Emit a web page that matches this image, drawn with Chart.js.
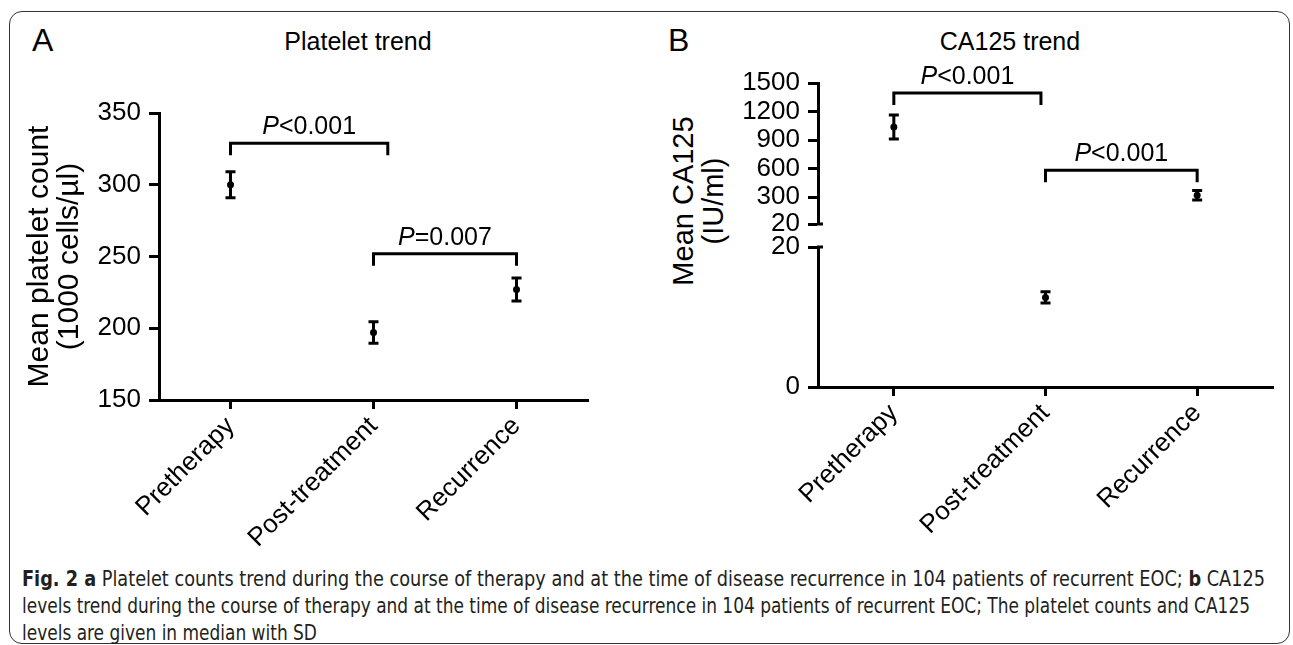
<!DOCTYPE html>
<html>
<head>
<meta charset="utf-8">
<script src="https://cdn.jsdelivr.net/npm/chart.js@4.4.0/dist/chart.umd.min.js"></script>
<style>
  body { margin: 0; background: #fff; width: 1293px; height: 645px; overflow: hidden; position: relative;
         font-family: 'Liberation Sans', Arial, sans-serif; color: #000; }
  .frame { position: absolute; left: 9px; top: 11px; width: 1279px; height: 631px;
           border: 1.5px solid #333; border-radius: 13px; }
  .txt { position: absolute; white-space: nowrap; line-height: 1; }
  .panel { font-size: 32px; }
  .title { font-size: 25px; transform: translateX(-50%); }
  .ytitle { font-size: 29px; line-height: 30px; text-align: center;
            transform: translate(-50%, -50%) rotate(-90deg); }
  canvas { position: absolute; }
  .cap { position: absolute; left: 22px; top: 566px; font-family: 'DejaVu Sans Condensed', 'Liberation Sans', sans-serif;
         font-size: 21px; line-height: 27px; color: #231f20; white-space: nowrap; }
  .cap span { display: inline-block; transform-origin: 0 50%; }
</style>
</head>
<body>
<div class="frame"></div>

<div class="txt panel" style="left:32px; top:24px;">A</div>
<div class="txt title" style="left:358px; top:29px;">Platelet trend</div>
<div class="txt panel" style="left:668px; top:24px;">B</div>
<div class="txt title" style="left:1010px; top:29px;">CA125 trend</div>
<div class="txt ytitle" style="left:698px; top:201px;">Mean CA125<br>(IU/ml)</div>

<div style="position:absolute; left:0; top:0; width:640px; height:560px;"><canvas id="chartA"></canvas></div>
<div style="position:absolute; left:640px; top:0; width:653px; height:254px;"><canvas id="chartBTop"></canvas></div>
<div style="position:absolute; left:640px; top:217px; width:653px; height:343px;"><canvas id="chartBBottom"></canvas></div>

<div class="cap">
<span id="cap1"><b>Fig. 2 a</b> Platelet counts trend during the course of therapy and at the time of disease recurrence in 104 patients of recurrent EOC; <b>b</b> CA125</span><br>
<span id="cap2">levels trend during the course of therapy and at the time of disease recurrence in 104 patients of recurrent EOC; The platelet counts and CA125</span><br>
<span id="cap3">levels are given in median with SD</span>
</div>

<script>
// dados
const categories = ['Pretherapy', 'Post-treatment', 'Recurrence'];

// painel A - plaquetas (x1000 cells/µl)
const plateletMean = [300, 197, 227];
const plateletSD = [9, 7.5, 8];
const plateletTicks = [150, 200, 250, 300, 350];
const plateletBrackets = [
  { from: 0, to: 1.1, level: 329, label: '<0.001' },
  { from: 1, to: 2, level: 252, label: '=0.007' }
];

// painel B - CA125 (IU/ml), eixo quebrado em 20
const ca125Mean = [1037, 12.8, 321];
const ca125SD = [126, 0.8, 50];
const ca125TopTicks = [20, 300, 600, 900, 1200, 1500];
const ca125BottomTicks = [0, 20];
const ca125Break = 20;
const ca125Brackets = [
  { from: 0, to: 0.97, level: 1395, label: '<0.001' },
  { from: 1, to: 2, level: 584, label: '<0.001' }
];

Chart.defaults.font.family = "'Liberation Sans', Arial, sans-serif";
Chart.defaults.color = '#000';

// barras de erro (média ± SD) desenhadas pelas escalas do gráfico
function errorBarsPlugin(means, sds) {
  return {
    id: 'errorBars',
    afterDatasetsDraw(chart) {
      const { ctx, scales: { x, y } } = chart;
      ctx.save();
      ctx.strokeStyle = '#000';
      ctx.lineWidth = 3;
      means.forEach((m, i) => {
        if (m == null) return;
        const px = x.getPixelForValue(i);
        const top = y.getPixelForValue(m + sds[i]);
        const bot = y.getPixelForValue(m - sds[i]);
        ctx.beginPath();
        ctx.moveTo(px, top); ctx.lineTo(px, bot);
        ctx.moveTo(px - 5, top); ctx.lineTo(px + 5, top);
        ctx.moveTo(px - 5, bot); ctx.lineTo(px + 5, bot);
        ctx.stroke();
      });
      ctx.restore();
    }
  };
}

// colchetes com o valor de P
function bracketsPlugin(brackets) {
  return {
    id: 'brackets',
    afterDraw(chart) {
      const { ctx, scales: { x, y } } = chart;
      ctx.save();
      ctx.strokeStyle = '#000';
      ctx.fillStyle = '#000';
      ctx.lineWidth = 3;
      brackets.forEach(b => {
        const x1 = x.getPixelForValue(b.from);
        const x2 = x.getPixelForValue(b.to);
        const py = y.getPixelForValue(b.level);
        ctx.beginPath();
        ctx.moveTo(x1, py + 12); ctx.lineTo(x1, py); ctx.lineTo(x2, py); ctx.lineTo(x2, py + 12);
        ctx.stroke();

        ctx.font = "italic 25px 'Liberation Sans', Arial, sans-serif";
        const wP = ctx.measureText('P').width;
        ctx.font = "25px 'Liberation Sans', Arial, sans-serif";
        const wRest = ctx.measureText(b.label).width;
        const tx = (x1 + x2) / 2 - (wP + wRest) / 2;
        ctx.textBaseline = 'alphabetic';
        ctx.textAlign = 'left';
        ctx.font = "italic 25px 'Liberation Sans', Arial, sans-serif";
        ctx.fillText('P', tx, py - 9);
        ctx.font = "25px 'Liberation Sans', Arial, sans-serif";
        ctx.fillText(b.label, tx + wP, py - 9);
      });
      ctx.restore();
    }
  };
}

// marca de quebra do eixo (traço para os dois lados)
function breakMarkPlugin(where) {
  return {
    id: 'breakMark',
    afterDraw(chart) {
      const { ctx, chartArea } = chart;
      const py = where === 'bottom' ? chartArea.bottom : chartArea.top;
      ctx.save();
      ctx.strokeStyle = '#000';
      ctx.lineWidth = 3;
      ctx.beginPath();
      ctx.moveTo(chartArea.left - 1, py);
      ctx.lineTo(chartArea.left + 5, py);
      ctx.stroke();
      ctx.restore();
    }
  };
}

function yAxis(min, max, ticks, width, extra) {
  return Object.assign({
    min: min,
    max: max,
    afterBuildTicks: s => { s.ticks = ticks.map(v => ({ value: v })); },
    afterFit: s => { s.width = width; },
    ticks: { font: { size: 26 }, color: '#000', padding: 8, autoSkip: false, callback: v => String(v) },
    grid: { drawOnChartArea: false, tickLength: 10, tickWidth: 3, tickColor: '#000' },
    border: { color: '#000', width: 3 }
  }, extra || {});
}

function xAxis(show, height) {
  return {
    type: 'category',
    offset: true,
    display: show,
    afterFit: s => { s.height = height; },
    grid: { drawOnChartArea: false, offset: false, tickLength: 9, tickWidth: 3, tickColor: '#000' },
    border: { color: '#000', width: 3 },
    ticks: { font: { size: 26 }, color: '#000', minRotation: 45, maxRotation: 45, padding: 2 }
  };
}

function pointsDataset(values) {
  return {
    data: values,
    showLine: false,
    pointRadius: 3.5,
    pointBackgroundColor: '#000',
    pointBorderColor: '#000',
    pointBorderWidth: 0
  };
}

const common = {
  responsive: true,
  maintainAspectRatio: false,
  animation: false,
  events: [],
  plugins: { legend: { display: false }, tooltip: { enabled: false } }
};

// Painel A
new Chart(document.getElementById('chartA'), {
  type: 'line',
  data: { labels: categories, datasets: [pointsDataset(plateletMean)] },
  options: Object.assign({}, common, {
    layout: { padding: { top: 113, right: 52, left: 0, bottom: 0 } },
    scales: {
      x: xAxis(true, 160),
      y: yAxis(150, 350, plateletTicks, 159, {
        title: {
          display: true,
          text: ['Mean platelet count', '(1000 cells/µl)'],
          font: { size: 30, lineHeight: 1 },
          color: '#000',
          padding: { top: 25, bottom: 0 }
        }
      })
    }
  }),
  plugins: [errorBarsPlugin(plateletMean, plateletSD), bracketsPlugin(plateletBrackets)]
});

// Painel B - segmento superior (20 a 1500)
const topMeans = ca125Mean.map(v => v >= ca125Break ? v : null);
const bottomMeans = ca125Mean.map(v => v < ca125Break ? v : null);

new Chart(document.getElementById('chartBTop'), {
  type: 'line',
  data: { labels: categories, datasets: [pointsDataset(topMeans)] },
  options: Object.assign({}, common, {
    layout: { padding: { top: 83, right: 20, left: 0, bottom: 30 } },
    scales: {
      x: xAxis(false, 0),
      y: yAxis(20, 1500, ca125TopTicks, 178)
    }
  }),
  plugins: [errorBarsPlugin(topMeans, ca125SD), bracketsPlugin(ca125Brackets), breakMarkPlugin('bottom')]
});

// Painel B - segmento inferior (0 a 20)
new Chart(document.getElementById('chartBBottom'), {
  type: 'line',
  data: { labels: categories, datasets: [pointsDataset(bottomMeans)] },
  options: Object.assign({}, common, {
    layout: { padding: { top: 30, right: 20, left: 0, bottom: 0 } },
    scales: {
      x: xAxis(true, 173),
      y: yAxis(0, 20, ca125BottomTicks, 178)
    }
  }),
  plugins: [errorBarsPlugin(bottomMeans, ca125SD), breakMarkPlugin('top')]
});

// ajusta a largura de cada linha da legenda à da figura original
function fitLine(id, target) {
  const el = document.getElementById(id);
  const r = target / el.getBoundingClientRect().width;
  el.style.transform = 'scaleX(' + r + ')';
  return r;
}
fitLine('cap1', 1243);
const r2 = fitLine('cap2', 1228);
document.getElementById('cap3').style.transform = 'scaleX(' + r2 + ')';
</script>
</body>
</html>
